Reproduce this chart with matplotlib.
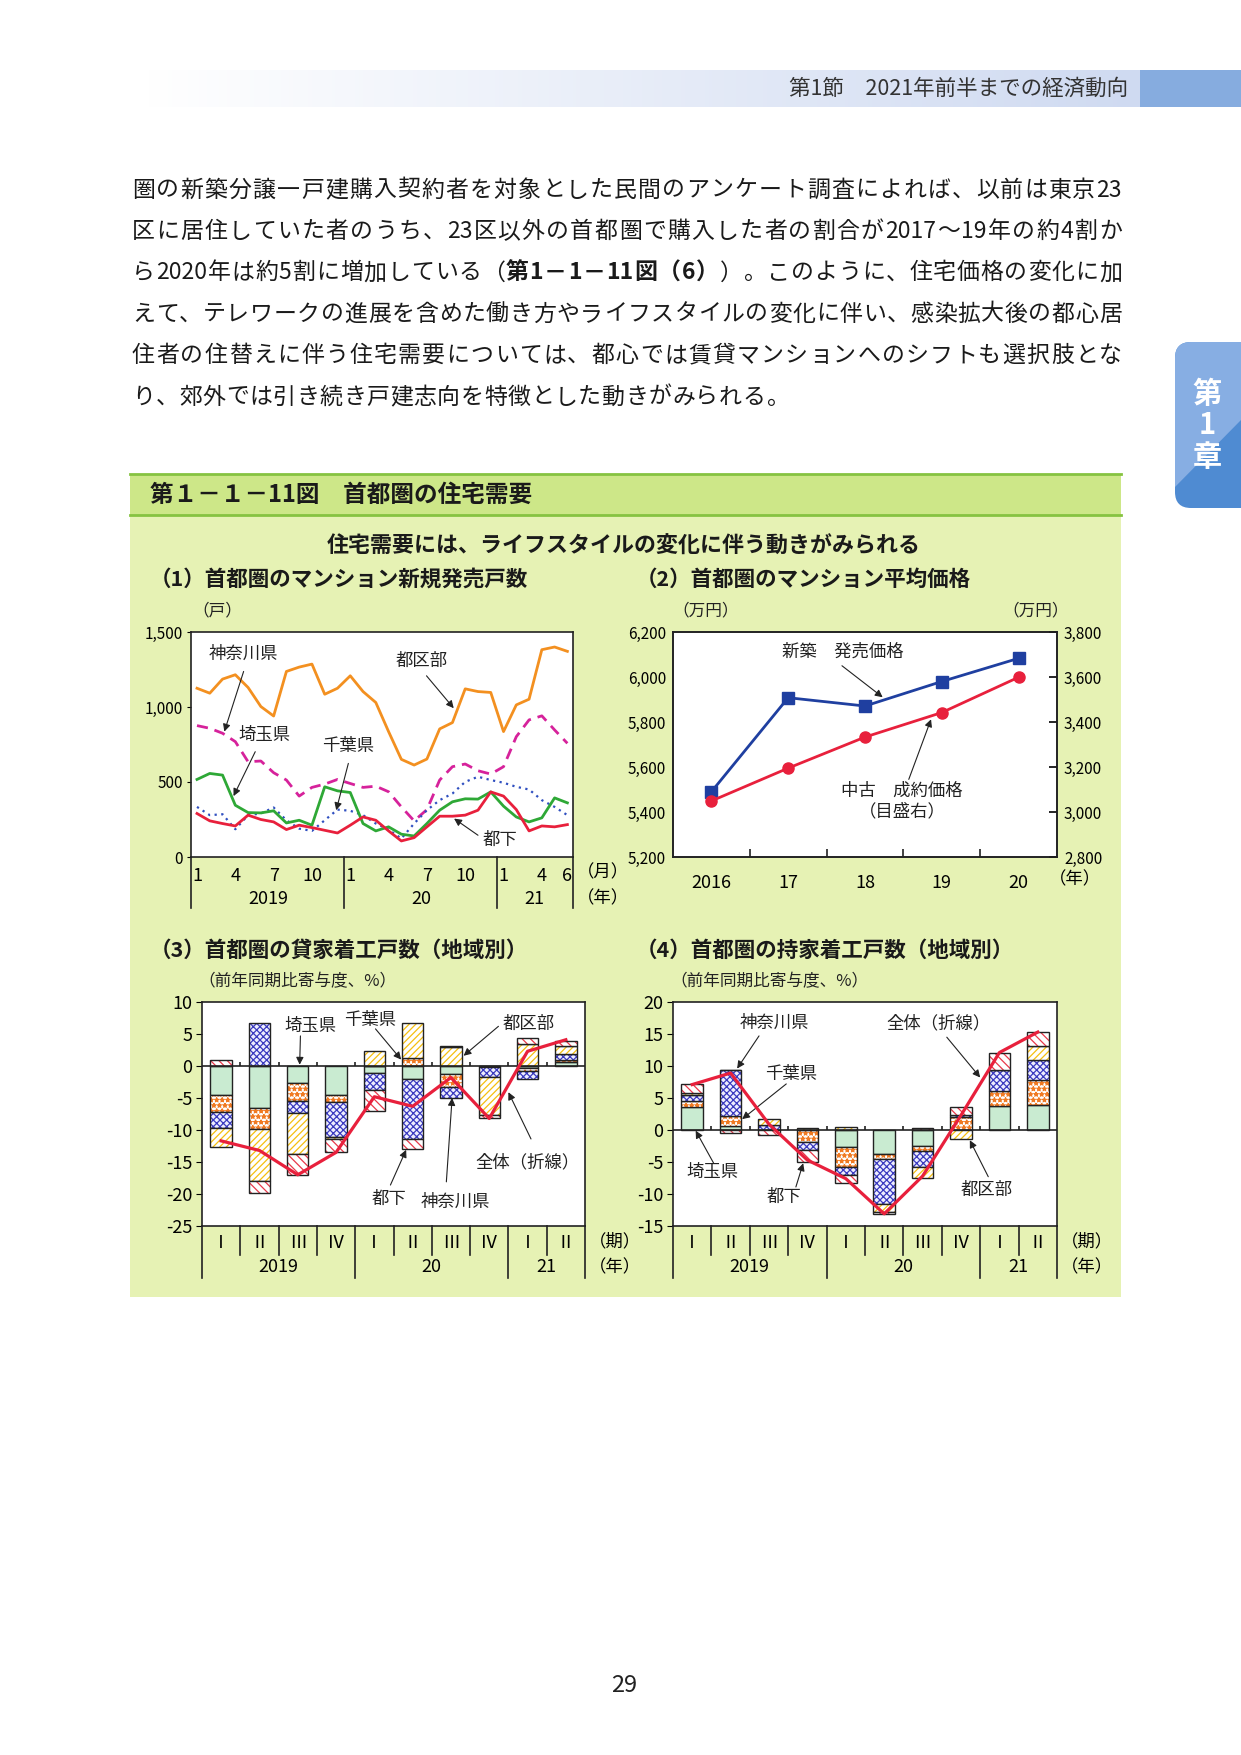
import re
import numpy as np
import matplotlib
matplotlib.use("Agg")
import matplotlib.pyplot as plt
from matplotlib.colors import LinearSegmentedColormap
from matplotlib.patches import Rectangle, FancyBboxPatch, Polygon

plt.rcParams['font.family'] = ['Noto Sans CJK JP', 'DejaVu Sans']
plt.rcParams['hatch.linewidth'] = 0.9
plt.rcParams['axes.unicode_minus'] = False

W, H = 1241, 1755

# ---- (1) monthly new condo supply, Jan 2019 - Jun 2021 ----
c1_tokubu = [1125, 1092, 1186, 1215, 1130, 1003, 940, 1237, 1266, 1286, 1085, 1125,
             1208, 1103, 1030, 836, 651, 613, 653, 854, 896, 1121, 1103, 1097,
             836, 1014, 1052, 1382, 1400, 1371]
c1_kanagawa = [876, 858, 825, 769, 635, 640, 562, 513, 406, 464, 486, 517,
               490, 464, 472, 435, 334, 241, 316, 513, 602, 620, 575, 553,
               602, 802, 914, 941, 847, 758]
c1_saitama = [517, 557, 546, 345, 296, 294, 308, 227, 245, 212, 468, 441,
              430, 223, 174, 201, 152, 140, 223, 312, 368, 388, 386, 434,
              339, 267, 234, 261, 394, 361]
c1_chiba = [334, 279, 285, 185, 279, 290, 330, 245, 189, 174, 245, 316,
            308, 279, 223, 183, 123, 223, 312, 379, 423, 501, 535, 513,
            495, 468, 450, 379, 334, 279]
c1_tokka = [290, 241, 223, 207, 279, 250, 234, 183, 212, 196, 178, 160,
            212, 267, 245, 174, 107, 129, 201, 272, 272, 279, 312, 434,
            406, 316, 174, 207, 201, 216]
c1_month_labels = ['1', '4', '7', '10', '1', '4', '7', '10', '1', '4', '6']
c1_month_idx = [0, 3, 6, 9, 12, 15, 18, 21, 24, 27, 29]
c1_years = ['2019', '20', '21']
c1_year_pos = [5.6, 17.6, 26.4]
c1_yticks = [0, 500, 1000, 1500]
c1_ylabels = ['0', '500', '1,000', '1,500']

# ---- (2) average condo price ----
c2_years = ['2016', '17', '18', '19', '20']
c2_new = [5490, 5908, 5871, 5980, 6083]
c2_used = [3049, 3195, 3333, 3442, 3599]
c2_left_ticks = [5200, 5400, 5600, 5800, 6000, 6200]
c2_left_labels = ['5,200', '5,400', '5,600', '5,800', '6,000', '6,200']
c2_right_ticks = [2800, 3000, 3200, 3400, 3600, 3800]
c2_right_labels = ['2,800', '3,000', '3,200', '3,400', '3,600', '3,800']

# ---- (3)(4) housing starts, contribution by region ----
quarters = ['Ⅰ', 'Ⅱ', 'Ⅲ', 'Ⅳ', 'Ⅰ', 'Ⅱ', 'Ⅲ', 'Ⅳ', 'Ⅰ', 'Ⅱ']
q_years = ['2019', '20', '21']
q_year_pos = [1.5, 5.5, 8.5]
regions = ['埼玉県', '千葉県', '神奈川県', '都区部', '都下']

c3_saitama = [-4.5, -6.6, -2.7, -4.5, -1.1, -2.05, -1.25, -0.2, -0.3, 0.55]
c3_chiba = [-2.7, -3.3, -2.7, -1.15, 0.0, 1.2, -2.0, 0.0, -0.5, 0.35]
c3_kanagawa = [-2.5, 6.7, -2.0, -5.5, -2.7, -9.4, -1.8, -1.55, -1.3, 1.05]
c3_tokubu = [-2.9, -8.1, -6.3, -0.3, 2.3, 5.5, 2.9, -5.9, 3.45, 1.15]
c3_tokka = [0.9, -1.9, -3.4, -2.0, -3.3, -1.55, 0.3, -0.5, 0.9, 0.85]
c3_total = [-11.7, -13.2, -17.0, -13.5, -4.8, -6.3, -1.8, -8.2, 2.3, 4.1]

c4_saitama = [3.55, 0.6, 0.0, 0.0, -2.6, -3.8, -2.45, 0.0, 3.7, 3.95]
c4_chiba = [1.05, 1.65, 0.0, -1.9, -3.2, -0.8, -0.85, 2.0, 2.4, 3.9]
c4_kanagawa = [0.8, 7.05, 0.8, -1.25, -1.3, -7.0, -2.45, 0.35, 3.3, 3.15]
c4_tokubu = [0.45, 0.0, 0.9, 0.3, 0.5, -1.2, -1.8, -1.4, 0.0, 2.1]
c4_tokka = [1.3, -0.5, -0.8, -1.85, -1.2, -0.4, 0.35, 1.3, 2.7, 2.15]
c4_total = [7.1, 8.9, 0.9, -4.7, -7.6, -13.1, -7.2, 2.3, 12.1, 15.3]

body_lines = [
    [('圏の新築分譲一戸建購入契約者を対象とした民間のアンケート調査によれば、以前は東京23', 'normal')],
    [('区に居住していた者のうち、23区以外の首都圏で購入した者の割合が2017～19年の約4割か', 'normal')],
    [('ら2020年は約5割に増加している（', 'normal'), ('第1－1－11図（6）', 'bold'),
     ('）。このように、住宅価格の変化に加', 'normal')],
    [('えて、テレワークの進展を含めた働き方やライフスタイルの変化に伴い、感染拡大後の都心居', 'normal')],
    [('住者の住替えに伴う住宅需要については、都心では賃貸マンションへのシフトも選択肢とな', 'normal')],
    [('り、郊外では引き続き戸建志向を特徴とした動きがみられる。', 'normal')],
]

PANEL = '#e6f2b4'
RED = '#e8203c'

fig = plt.figure(figsize=(W / 100, H / 100), dpi=100)
fig.patch.set_facecolor('white')

# page background axes in pixel units
bg = fig.add_axes([0, 0, 1, 1], zorder=0)
bg.set_xlim(0, W)
bg.set_ylim(H, 0)
bg.axis('off')

# header band
cmap = LinearSegmentedColormap.from_list('hdr', ['#ffffff', '#cfdaf1'])
bg.imshow(np.linspace(0, 1, 256)[None, :], cmap=cmap, extent=(145, 1140, 107, 70), aspect='auto')
bg.set_xlim(0, W)
bg.set_ylim(H, 0)
bg.add_patch(Rectangle((1140, 70), 101, 37, fc='#86acdf', ec='none'))
bg.text(1128, 89, '第1節　2021年前半までの経済動向', fontsize=15.5, color='#333333', ha='right', va='center')

# chapter tab
tab = FancyBboxPatch((1175, 342), 100, 166, boxstyle='round,pad=0,rounding_size=16', fc='#4f8bd2', ec='none')
bg.add_patch(tab)
light = Polygon([(1175, 330), (1241, 330), (1241, 420), (1175, 487)], fc='#87aee3', ec='none')
bg.add_patch(light)
light.set_clip_path(tab)
for ch, yy in zip(['第', '1', '章'], [394, 425, 457]):
    bg.text(1207, yy, ch, fontsize=21, color='white', fontweight='bold', ha='center', va='center')

# body text, justified
renderer = fig.canvas.get_renderer()


def draw_line(segs, x0, x1, y, size, justify):
    items = []
    for text, weight in segs:
        for tok in re.findall(r'[0-9A-Za-z]+|.', text):
            t = bg.text(0, y, tok, fontsize=size, fontweight=weight, va='center', ha='left', color='#1a1a1a')
            items.append((t, t.get_window_extent(renderer).width))
    total = sum(w for _, w in items)
    gap = (x1 - x0 - total) / (len(items) - 1) if justify else 0.6
    x = x0
    for t, w in items:
        t.set_x(x)
        x += w + gap


for i, segs in enumerate(body_lines):
    draw_line(segs, 132, 1122, 190 + i * 41.4, 16.5, i < len(body_lines) - 1)

# figure frame
bg.add_patch(Rectangle((130, 515), 991, 782, fc=PANEL, ec='none'))
bg.add_patch(Rectangle((130, 474), 991, 41, fc='#cde788', ec='none'))
bg.plot([130, 1121], [474, 474], color='#86c341', lw=2)
bg.plot([130, 1121], [515, 515], color='#86c341', lw=2)
bg.text(150, 495, '第１－１－11図　首都圏の住宅需要', fontsize=17, fontweight='bold', color='#1a1a1a', va='center')
bg.text(624, 546, '住宅需要には、ライフスタイルの変化に伴う動きがみられる', fontsize=15.8, fontweight='bold',
        color='#1a1a1a', ha='center', va='center')
bg.text(150, 579, '（1）首都圏のマンション新規発売戸数', fontsize=15.5, fontweight='bold', color='#1a1a1a', va='center')
bg.text(636, 579, '（2）首都圏のマンション平均価格', fontsize=15.5, fontweight='bold', color='#1a1a1a', va='center')
bg.text(150, 950, '（3）首都圏の貸家着工戸数（地域別）', fontsize=15.5, fontweight='bold', color='#1a1a1a', va='center')
bg.text(636, 950, '（4）首都圏の持家着工戸数（地域別）', fontsize=15.5, fontweight='bold', color='#1a1a1a', va='center')
bg.text(192, 611, '（戸）', fontsize=12, color='#222222', va='center')
bg.text(672, 611, '（万円）', fontsize=12, color='#222222', va='center')
bg.text(1002, 611, '（万円）', fontsize=12, color='#222222', va='center')
bg.text(198, 982, '（前年同期比寄与度、%）', fontsize=12, color='#222222', va='center')
bg.text(670, 982, '（前年同期比寄与度、%）', fontsize=12, color='#222222', va='center')
bg.text(624, 1685, '29', fontsize=17, color='#222222', ha='center', va='center')


def px_axes(l, t, r, b):
    ax = fig.add_axes([l / W, 1 - b / H, (r - l) / W, (b - t) / H], zorder=2)
    ax.set_facecolor('white')
    for s in ax.spines.values():
        s.set_color('#222222')
        s.set_linewidth(1.2)
    return ax


def arrow(ax, tip, start):
    ax.annotate('', xy=tip, xytext=start,
                arrowprops=dict(arrowstyle='-|>', color='#222222', lw=0.8, mutation_scale=11, shrinkA=0, shrinkB=0))


def label(ax, x, y, s, size=12.5):
    ax.text(x, y, s, fontsize=size, ha='center', va='center', color='#222222')


def vsep(ax, x, depth):
    ax.plot([x, x], [0, -depth], transform=ax.get_xaxis_transform(), color='#222222', lw=1.2, clip_on=False)


# ---- chart 1 ----
ax1 = px_axes(191, 632, 573, 857)
x1 = np.arange(len(c1_tokubu))
ax1.plot(x1, c1_tokubu, color='#f39020', lw=2)
ax1.plot(x1, c1_kanagawa, color='#d6229b', lw=2, dashes=(4, 2.5))
ax1.plot(x1, c1_chiba, color='#2f4fc0', lw=1.6, linestyle=(0, (1, 2)))
ax1.plot(x1, c1_saitama, color='#2ea836', lw=2)
ax1.plot(x1, c1_tokka, color=RED, lw=2)
ax1.set_xlim(-0.47, 29.44)
ax1.set_ylim(0, 1500)
ax1.set_yticks(c1_yticks, c1_ylabels, fontsize=11)
ax1.tick_params(axis='y', direction='out', length=3, pad=3)
ax1.set_xticks(c1_month_idx, c1_month_labels, fontsize=13)
ax1.tick_params(axis='x', length=0, pad=7)
for xp, yl in zip(c1_year_pos, c1_years):
    ax1.text(xp, -0.185, yl, transform=ax1.get_xaxis_transform(), fontsize=13, ha='center', va='center')
for xs in [-0.47, 11.5, 23.5, 29.44]:
    vsep(ax1, xs, 0.227)
ax1.text(1.01, -0.07, '（月）', transform=ax1.transAxes, fontsize=12.5, va='center')
ax1.text(1.01, -0.185, '（年）', transform=ax1.transAxes, fontsize=12.5, va='center')
label(ax1, 3.65, 1355, '神奈川県')
arrow(ax1, (2.14, 836), (3.65, 1237))
label(ax1, 17.6, 1310, '都区部')
arrow(ax1, (20.1, 992), (17.97, 1208))
label(ax1, 5.3, 813, '埼玉県')
arrow(ax1, (2.86, 406), (4.56, 702))
label(ax1, 11.85, 742, '千葉県')
arrow(ax1, (10.9, 312), (11.85, 624))
label(ax1, 23.7, 116, '都下')
arrow(ax1, (20.13, 256), (22.0, 145))

# ---- chart 2 ----
ax2 = px_axes(673, 632, 1057, 857)
x2 = np.arange(len(c2_years))
ax2.plot(x2, c2_new, color='#1f3fa0', lw=2, marker='s', markersize=8)
ax2.set_xlim(-0.5, 4.5)
ax2.set_ylim(5200, 6200)
ax2.set_yticks(c2_left_ticks, c2_left_labels, fontsize=11)
ax2.tick_params(axis='y', length=0, pad=5)
ax2.set_xticks(x2, c2_years, fontsize=13)
ax2.set_xticks(x2[:-1] + 0.5, minor=True)
ax2.tick_params(axis='x', which='major', length=0, pad=12)
ax2.tick_params(axis='x', which='minor', direction='in', length=6, width=1.2, color='#222222')
ax2r = ax2.twinx()
ax2r.plot(x2, c2_used, color=RED, lw=2, marker='o', markersize=8)
ax2r.set_ylim(2800, 3800)
ax2r.set_yticks(c2_right_ticks, c2_right_labels, fontsize=11)
ax2r.tick_params(axis='y', direction='in', length=6, width=1.2, pad=5)
for s in ax2r.spines.values():
    s.set_color('#222222')
    s.set_linewidth(1.2)
ax2.text(1.047, -0.1, '（年）', transform=ax2.transAxes, fontsize=12.5, ha='center', va='center')
label(ax2, 1.71, 6114, '新築　発売価格')
arrow(ax2, (2.23, 5910), (1.70, 6050))
label(ax2, 2.48, 5494, '中古　成約価格')
label(ax2, 2.48, 5404, '（目盛右）')
arrow(ax2, (2.86, 5812), (2.57, 5545))

# ---- charts 3 and 4 ----
styles = [
    dict(color='#c9ebd1', edgecolor='#c9ebd1', hatch=None),
    dict(color='white', edgecolor='#f07a22', hatch='***'),
    dict(color='#eeeeff', edgecolor='#3b3bbf', hatch='xxxxx'),
    dict(color='white', edgecolor='#f5bf10', hatch='/////'),
    dict(color='white', edgecolor='#e8384a', hatch='\\\\\\\\'),
]


def stacked(ax, series, total, ylim, ticks):
    n = len(total)
    xq = np.arange(n)
    pos = np.zeros(n)
    neg = np.zeros(n)
    for vals, st in zip(series, styles):
        v = np.array(vals)
        base = np.where(v >= 0, pos, neg)
        ax.bar(xq, v, bottom=base, width=0.56, linewidth=0, **st)
        ax.bar(xq, v, bottom=base, width=0.56, fill=False, edgecolor='#222222', linewidth=1)
        pos += np.where(v > 0, v, 0)
        neg += np.where(v < 0, v, 0)
    ax.axhline(0, color='#222222', lw=1.2)
    ax.vlines(xq[:-1] + 0.5, 0, 0.6, color='#222222', lw=1.2)
    ax.plot(xq, total, color=RED, lw=2.3, zorder=5)
    ax.set_xlim(-0.5, n - 0.5)
    ax.set_ylim(*ylim)
    ax.set_yticks(ticks, [str(t) for t in ticks], fontsize=13)
    ax.tick_params(axis='y', direction='out', length=4, pad=3)
    ax.set_xticks(xq, quarters, fontsize=13)
    ax.tick_params(axis='x', length=0, pad=6)
    for xp, yl in zip(q_year_pos, q_years):
        ax.text(xp, -0.185, yl, transform=ax.get_xaxis_transform(), fontsize=13, ha='center', va='center')
    for xs in xq[:-1] + 0.5:
        deep = xs in (3.5, 7.5)
        vsep(ax, xs, 0.232 if deep else 0.13)
    vsep(ax, -0.5, 0.232)
    vsep(ax, n - 0.5, 0.232)
    ax.text(1.01, -0.07, '（期）', transform=ax.transAxes, fontsize=12.5, va='center')
    ax.text(1.01, -0.185, '（年）', transform=ax.transAxes, fontsize=12.5, va='center')


ax3 = px_axes(202, 1002, 585, 1226)
stacked(ax3, [c3_saitama, c3_chiba, c3_kanagawa, c3_tokubu, c3_tokka], c3_total,
        (-25, 10), [10, 5, 0, -5, -10, -15, -20, -25])
label(ax3, 2.33, 6.2, regions[0])
arrow(ax3, (2.05, 0.2), (2.07, 4.7))
label(ax3, 3.9, 7.2, regions[1])
arrow(ax3, (4.7, 1.0), (4.03, 5.8))
label(ax3, 8.03, 6.6, regions[3])
arrow(ax3, (6.33, 1.6), (7.24, 6.2))
label(ax3, 8.0, -15.1, '全体（折線）')
arrow(ax3, (7.5, -4.1), (8.09, -11.4))
label(ax3, 4.37, -20.7, regions[4])
arrow(ax3, (4.83, -13.1), (4.42, -18.6))
label(ax3, 6.11, -21.2, regions[2])
arrow(ax3, (6.03, -5.0), (5.88, -18.1))

ax4 = px_axes(673, 1002, 1057, 1226)
stacked(ax4, [c4_saitama, c4_chiba, c4_kanagawa, c4_tokubu, c4_tokka], c4_total,
        (-15, 20), [20, 15, 10, 5, 0, -5, -10, -15])
label(ax4, 2.15, 16.8, regions[2])
arrow(ax4, (1.17, 9.6), (1.74, 14.7))
label(ax4, 2.58, 8.7, regions[1])
arrow(ax4, (1.3, 1.7), (2.45, 7.2))
label(ax4, 6.41, 16.6, '全体（折線）')
arrow(ax4, (7.5, 8.2), (6.63, 14.5))
label(ax4, 0.54, -6.5, regions[0])
arrow(ax4, (0.09, -0.1), (0.56, -5.2))
label(ax4, 2.38, -10.4, regions[4])
arrow(ax4, (2.89, -5.2), (2.7, -8.9))
label(ax4, 7.67, -9.3, regions[3])
arrow(ax4, (7.23, -1.6), (7.71, -7.3))

fig.savefig('out.png', dpi=100, facecolor='white')
